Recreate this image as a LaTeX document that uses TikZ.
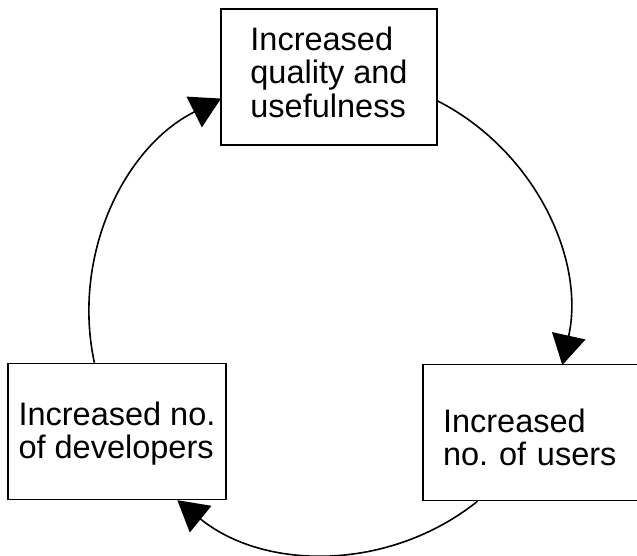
\documentclass[tikz,border=0pt]{standalone}
\usepackage{fontspec}
\setmainfont{Liberation Sans}
\usetikzlibrary{arrows.meta}
\frenchspacing
\begin{document}
\begin{tikzpicture}[x=1pt,y=1pt,
  box/.style={draw, line width=1.5pt, minimum height=136pt, align=left, inner sep=0pt,
    font=\fontsize{32.5}{33.5}\selectfont},
  link/.style={line width=1.6pt, -{Triangle[length=30pt,width=34pt]}}]
\useasboundingbox (0,0) rectangle (637,555);
\clip (0,0) rectangle (637,555);
\coordinate (C) at (328,241.5);
\node[box, minimum width=216pt, text depth=10.5pt] (qual) at (329,478) {Increased\\quality and\\usefulness};
\node[box, minimum width=218pt, text depth=3pt] (devs) at (117,123.5) {Increased no.\\of developers};
\node[box, text width=200pt, inner xsep=20pt, text height=23.5pt, text depth=24.5pt] (users) at (543,122.5) {Increased\\no. of users};
\draw[link] ([yshift=-24pt]qual.east) arc[start angle=62.9, end angle=-12.4, radius=239pt];
\draw[link] ([xshift=-65.5pt]users.south) arc[start angle=-51.3, end angle=-129.1, radius=239pt];
\draw[link] ([xshift=-22.6pt]devs.north) arc[start angle=192.2, end angle=116.6, radius=239pt];
\end{tikzpicture}
\end{document}
